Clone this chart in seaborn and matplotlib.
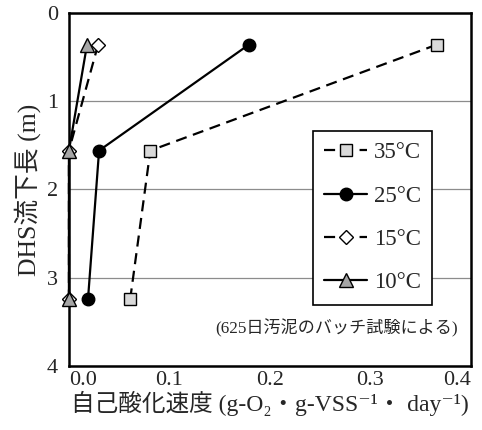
import matplotlib
matplotlib.use("Agg")
import matplotlib.pyplot as plt
import seaborn as sns
import pandas as pd

# Sampling depth along the DHS column (m)
depth = [0.36, 1.56, 3.24]

# Self-oxidation rate (g-O2 / g-VSS / day) at each temperature
rate_35 = [0.366, 0.081, 0.061]
rate_25 = [0.179, 0.030, 0.019]
rate_15 = [0.029, 0.0, 0.0]
rate_10 = [0.018, 0.0, 0.0]

series_labels = ["35°C", "25°C", "15°C", "10°C"]
x_ticks = [0.0, 0.1, 0.2, 0.3, 0.4]
y_ticks = [0, 1, 2, 3, 4]

sns.set_style("white")
serif_mix = ["Liberation Serif", "Noto Sans CJK JP", "DejaVu Serif"]
plt.rcParams["font.family"] = serif_mix

fig = plt.figure(figsize=(4.82, 4.30), dpi=100)
ax = fig.add_axes([0.143, 0.149, 0.834, 0.821])

styles = [
    dict(marker="s", ms=9, mfc="#d9d9d9", ls=(0, (5, 3))),
    dict(marker="o", ms=9, mfc="black", ls="-"),
    dict(marker="D", ms=7, mfc="white", ls=(0, (5, 3))),
    dict(marker="^", ms=9.5, mfc="#a6a6a6", ls="-"),
]

for rates, lab, st in zip([rate_35, rate_25, rate_15, rate_10], series_labels, styles):
    df = pd.DataFrame({"rate": rates, "depth": depth})
    sns.lineplot(data=df, x="rate", y="depth", sort=False, estimator=None,
                 ax=ax, color="black", lw=1.6, marker=st["marker"], ms=st["ms"],
                 markerfacecolor=st["mfc"], markeredgecolor="black",
                 markeredgewidth=1.0, linestyle=st["ls"], clip_on=False,
                 label=lab, zorder=3)

ax.set_xlim(0, 0.4)
ax.set_ylim(4, 0)
ax.set_xticks(x_ticks)
ax.set_xticklabels([f"{v:.1f}" for v in x_ticks], fontsize=16)
ax.set_yticks(y_ticks)
ax.set_yticklabels([str(v) for v in y_ticks], fontsize=16)
xt = ax.get_xticklabels()
xt[0].set_ha("left")
xt[-1].set_ha("right")

ax.tick_params(axis="x", direction="in", length=5, width=1.2, pad=4)
ax.tick_params(axis="y", length=0, pad=8)

ax.set_axisbelow(True)
ax.yaxis.grid(True, color="#8c8c8c", lw=0.9)
ax.xaxis.grid(False)
for sp in ax.spines.values():
    sp.set_color("black")
    sp.set_linewidth(1.8)

ax.set_xlabel("自己酸化速度 (g-O₂・g-VSS⁻¹・ day⁻¹)", fontsize=17, labelpad=0)
ax.set_ylabel("DHS流下長 (m)", fontsize=18.5, labelpad=4)

handles, labels = ax.get_legend_handles_labels()
leg = ax.legend(handles, labels, loc="upper left", bbox_to_anchor=(0.607, 0.666),
                borderaxespad=0, fontsize=16.5, frameon=True, fancybox=False,
                framealpha=1, edgecolor="black", handlelength=1.85,
                handletextpad=0.3, labelspacing=0.97, borderpad=0.5)
leg.get_frame().set_linewidth(1.2)
leg.set_zorder(5)

ax.text(0.968, 0.108, "(625日汚泥のバッチ試験による)", transform=ax.transAxes,
        ha="right", va="center", fontsize=12.3, zorder=6)

fig.savefig("out.png", dpi=100)
